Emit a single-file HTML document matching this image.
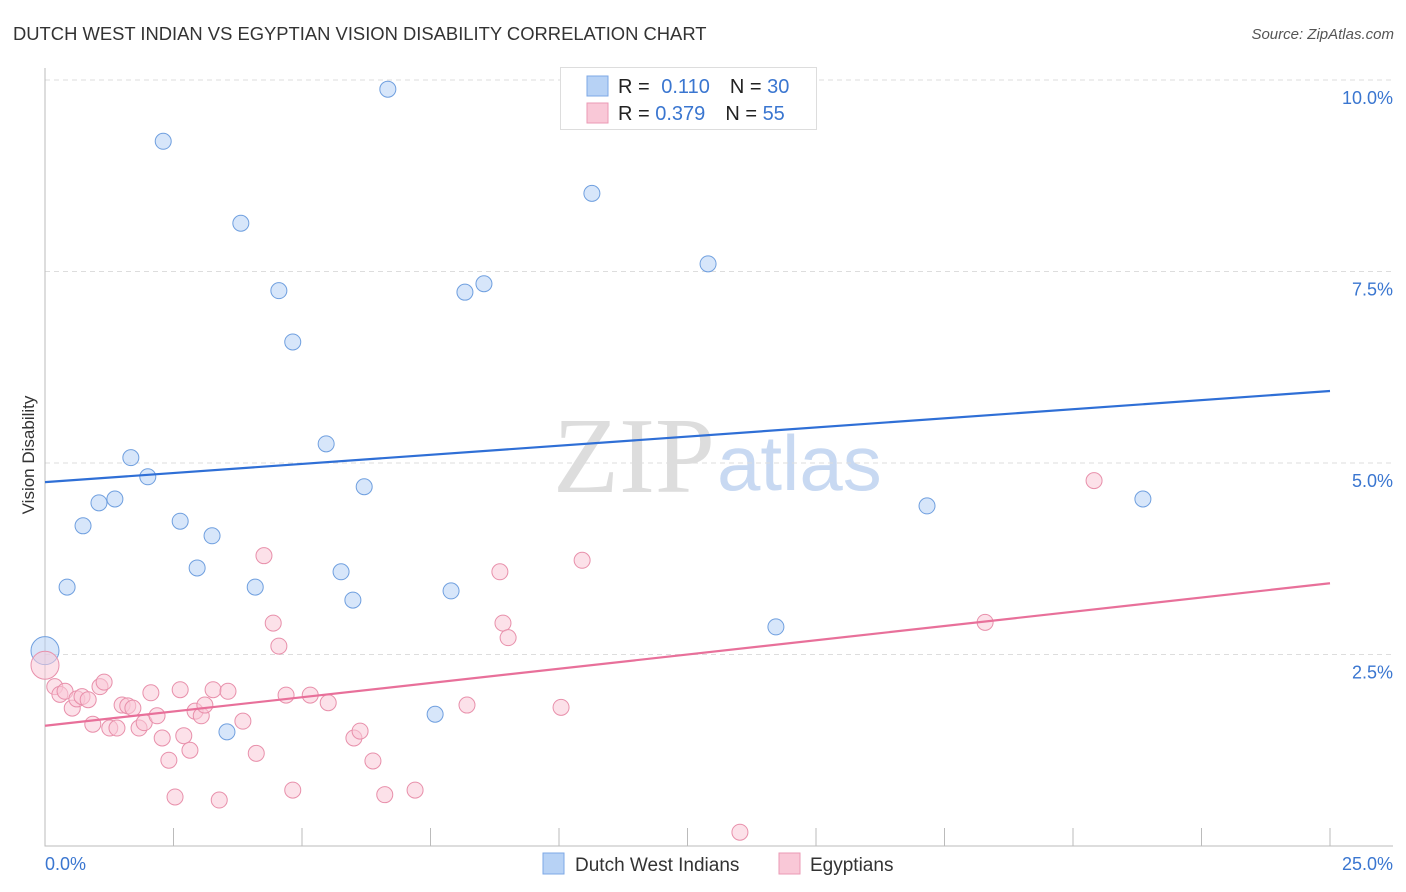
<!DOCTYPE html>
<html><head><meta charset="utf-8"><style>
body{margin:0;background:#fff;font-family:"Liberation Sans",sans-serif;}
svg{display:block}
</style></head><body>
<svg id="c" width="1406" height="892">
<text x="13" y="40" font-size="18.4" fill="#333">DUTCH WEST INDIAN VS EGYPTIAN VISION DISABILITY CORRELATION CHART</text>
<text x="1394" y="39" font-size="15" fill="#555" font-style="italic" text-anchor="end">Source: ZipAtlas.com</text>
<text x="34" y="455" font-size="17" fill="#333" text-anchor="middle" transform="rotate(-90 34 455)">Vision Disability</text>
<g><text x="553" y="492" font-size="108" fill="#ddd" font-family="Liberation Serif,serif">ZIP</text><text x="717" y="490" font-size="78" fill="#c8d9f2">atlas</text></g>
<g id="grid"></g><g id="pts"></g><g id="lines"></g>
<g>
<rect x="560.5" y="67.5" width="256" height="62" fill="#fff" stroke="#ddd"/>
<rect x="587" y="76" width="21" height="20" fill="#b7d2f5" stroke="#7ea8e6"/>
<rect x="587" y="103" width="21" height="20" fill="#f9c8d7" stroke="#eb9ab4"/>
<text x="618" y="93" font-size="20" fill="#222">R = <tspan fill="#3a76d0" dx="6">0.110</tspan><tspan dx="20">N = </tspan><tspan fill="#3a76d0">30</tspan></text>
<text x="618" y="120" font-size="20" fill="#222">R = <tspan fill="#3a76d0">0.379</tspan><tspan dx="20">N = </tspan><tspan fill="#3a76d0">55</tspan></text>
</g>
<g>
<rect x="543" y="853" width="21" height="21" fill="#b7d2f5" stroke="#7ea8e6"/>
<text x="575" y="871" font-size="19" fill="#333">Dutch West Indians</text>
<rect x="779" y="853" width="21" height="21" fill="#f9c8d7" stroke="#eb9ab4"/>
<text x="810" y="871" font-size="19" fill="#333">Egyptians</text>
</g>
</svg>
<script>
const xTicks=[0,2.5,5,7.5,10,12.5,15,17.5,20,22.5,25];
const yTicks=[2.5,5,7.5,10];
const yTickLabels=["2.5%","5.0%","7.5%","10.0%"];
const xEndLabels=["0.0%","25.0%"];
const blueX=[0,0.43,0.74,1.05,1.36,1.67,2.00,2.30,2.63,2.96,3.25,3.54,3.81,4.09,4.55,4.82,5.47,5.76,5.99,6.21,6.67,7.59,7.90,8.17,8.54,10.64,12.90,14.22,17.16,21.36];
const blueY=[2.55,3.38,4.18,4.48,4.53,5.07,4.82,9.20,4.24,3.63,4.05,1.49,8.13,3.38,7.25,6.58,5.25,3.58,3.21,4.69,9.88,1.72,3.33,7.23,7.34,8.52,7.60,2.86,4.44,4.53];
const pinkX=[0,0.19,0.29,0.39,0.53,0.62,0.72,0.84,0.93,1.07,1.15,1.26,1.40,1.50,1.61,1.71,1.83,1.93,2.06,2.18,2.28,2.41,2.53,2.63,2.70,2.82,2.92,3.04,3.11,3.27,3.39,3.56,3.85,4.11,4.26,4.44,4.55,4.69,4.82,5.16,5.51,6.01,6.13,6.38,6.61,7.20,8.21,8.85,8.91,9.01,10.04,10.45,13.52,18.29,20.41];
const pinkY=[2.36,2.08,1.98,2.02,1.80,1.92,1.95,1.91,1.59,2.08,2.14,1.54,1.54,1.84,1.83,1.80,1.54,1.61,2.00,1.70,1.41,1.12,0.64,2.04,1.44,1.25,1.76,1.70,1.84,2.04,0.60,2.02,1.63,1.21,3.79,2.91,2.61,1.97,0.73,1.97,1.87,1.41,1.50,1.11,0.67,0.73,1.84,3.58,2.91,2.72,1.81,3.73,0.18,2.92,4.77];
const blueTrend=[4.75,5.94];
const pinkTrend=[1.57,3.43];
const NS="http://www.w3.org/2000/svg";
const X=v=>45+v*51.4, Y=v=>846-v*76.6;
function mk(p,t,a){const e=document.createElementNS(NS,t);for(const k in a)e.setAttribute(k,a[k]);p.appendChild(e);return e;}
const g=document.getElementById('grid');
yTicks.forEach((t,i)=>{
 const l=mk(g,'line',{x1:45,x2:1393,y1:Y(t),y2:Y(t),stroke:'#ddd','stroke-dasharray':'5,4'});
 
 
 const tx=mk(g,'text',{x:1393,y:Y(t)+24,'font-size':18,fill:'#3a76d0','text-anchor':'end'});
 tx.textContent=yTickLabels[i];
 
 
});
const ax=mk(g,'path',{d:'M45 68V846H1393',fill:'none',stroke:'#bbb'});


xTicks.forEach(t=>{
 const l=mk(g,'line',{x1:X(t),x2:X(t),y1:828,y2:846,stroke:'#bbb'});
 
 
});
[[xTicks[0],'start',45],[xTicks[10],'end',1393]].forEach((d,i)=>{
 const tx=mk(g,'text',{x:d[2],y:870,'font-size':18,fill:'#3a76d0','text-anchor':d[1]});
 tx.textContent=xEndLabels[i];
 
 
});
const P=document.getElementById('pts');
function pts(xs,ys,fill,stroke,name){xs.forEach((x,i)=>{
 const c=mk(P,'circle',{cx:X(x),cy:Y(ys[i]),r:i==0?14:8,fill:fill,'fill-opacity':0.55,stroke:stroke,'stroke-width':1});
 
 
});}
pts(blueX,blueY,'#b7d2f5','#6f9fdf','dutch-west-indian-point');
pts(pinkX,pinkY,'#f9c8d7','#e890ab','egyptian-point');
const L=document.getElementById('lines');
const b=mk(L,'line',{x1:X(0),x2:X(25),y1:Y(blueTrend[0]),y2:Y(blueTrend[1]),stroke:'#2f6fd6','stroke-width':2.2});


const p=mk(L,'line',{x1:X(0),x2:X(25),y1:Y(pinkTrend[0]),y2:Y(pinkTrend[1]),stroke:'#e8709a','stroke-width':2.2});


</script>
</body></html>
